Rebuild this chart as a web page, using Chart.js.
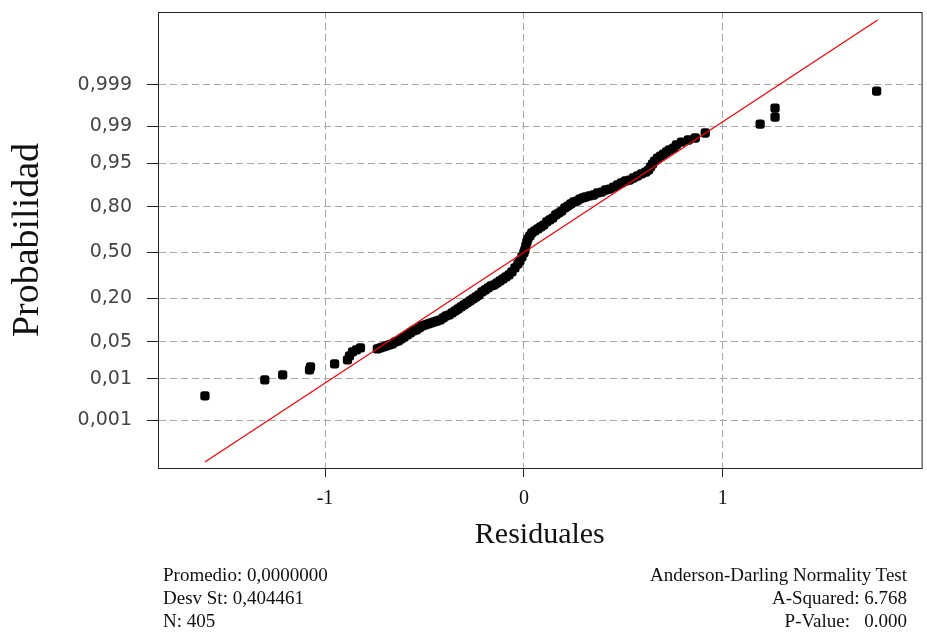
<!DOCTYPE html>
<html>
<head>
<meta charset="utf-8">
<script src="https://cdn.jsdelivr.net/npm/chart.js"></script>
<style>
	body { margin: 0; background: #fff; }
	#wrap { position: relative; width: 927px; height: 633px; }
	.stats { position: absolute; font-family: "Liberation Serif", serif; font-size: 19px; line-height: 23px; color: #111; white-space: pre; }
	#stats_left { left: 163px; top: 563px; }
	#stats_right { right: 20px; top: 563px; text-align: right; }
</style>
</head>
<body>
<div id="wrap">
	<canvas id="chart_prob" width="927" height="633"></canvas>
	<div class="stats" id="stats_left">Promedio: 0,0000000
Desv St: 0,404461
N: 405</div>
	<div class="stats" id="stats_right">Anderson-Darling Normality Test
A-Squared: 6.768
P-Value:   0.000</div>
</div>
<script>
// residuales ordenados (eje x) y su puntaje normal (eje y, escala probit)
var residuales = [
	-1.604, -1.303, -1.213, -1.078, -1.073, -0.952, -0.887, -0.877, -0.862, -0.842, -0.822,
	-0.737, -0.722, -0.707, -0.692, -0.677, -0.662, -0.647, -0.632, -0.617, -0.602,
	-0.586, -0.571, -0.556, -0.541, -0.526, -0.511, -0.496, -0.481, -0.466, -0.451,
	-0.436, -0.421, -0.406, -0.391, -0.376, -0.361, -0.346, -0.331, -0.316, -0.301,
	-0.286, -0.271, -0.256, -0.241, -0.226, -0.211, -0.195, -0.180, -0.165, -0.150,
	-0.135, -0.120, -0.105, -0.090, -0.075, -0.060, -0.045, -0.030, -0.020, -0.010,
	0.000, 0.005, 0.010, 0.015, 0.020, 0.030, 0.040, 0.055, 0.070, 0.085,
	0.100, 0.115, 0.130, 0.145, 0.160, 0.175, 0.190, 0.206, 0.221, 0.236,
	0.251, 0.266, 0.281, 0.296, 0.311, 0.331, 0.351, 0.371, 0.391, 0.411,
	0.431, 0.451, 0.471, 0.491, 0.511, 0.531, 0.551, 0.571, 0.591, 0.612,
	0.627, 0.637, 0.647, 0.657, 0.672, 0.687, 0.702, 0.717, 0.732, 0.752,
	0.767, 0.792, 0.827, 0.862, 0.912,
	1.188, 1.263, 1.263, 1.774
];
var puntajes = [
	-2.643, -2.348, -2.256, -2.164, -2.109, -2.053, -1.980, -1.906, -1.832, -1.796, -1.759,
	-1.777, -1.759, -1.740, -1.722, -1.703, -1.685, -1.648, -1.630, -1.593, -1.556,
	-1.519, -1.482, -1.446, -1.427, -1.390, -1.354, -1.335, -1.317, -1.298, -1.280,
	-1.262, -1.243, -1.206, -1.169, -1.151, -1.114, -1.077, -1.041, -1.004, -0.967,
	-0.930, -0.893, -0.856, -0.820, -0.783, -0.727, -0.691, -0.654, -0.617, -0.599,
	-0.562, -0.525, -0.488, -0.451, -0.414, -0.359, -0.285, -0.212, -0.157, -0.083,
	-0.009, 0.046, 0.120, 0.193, 0.249, 0.304, 0.359, 0.396, 0.433, 0.470,
	0.506, 0.562, 0.599, 0.635, 0.691, 0.727, 0.764, 0.820, 0.856, 0.893,
	0.930, 0.948, 0.985, 1.004, 1.022, 1.041, 1.059, 1.096, 1.114, 1.151,
	1.169, 1.206, 1.243, 1.280, 1.317, 1.335, 1.372, 1.409, 1.446, 1.482,
	1.519, 1.575, 1.630, 1.685, 1.740, 1.777, 1.814, 1.851, 1.888, 1.924,
	1.980, 2.035, 2.072, 2.109, 2.201,
	2.366, 2.495, 2.661, 2.974
];

// recta de ajuste (extremos)
var recta_x = [-1.604, 1.779];
var recta_z = [-3.858, 4.282];

// marcas del eje y (probabilidades) y del eje x
var prob_ticks = [0.001, 0.01, 0.05, 0.20, 0.50, 0.80, 0.95, 0.99, 0.999];
var prob_labels = ["0,001", "0,01", "0,05", "0,20", "0,50", "0,80", "0,95", "0,99", "0,999"];
var x_ticks = [-1, 0, 1];

/**
 * Inversa de la normal estándar (Acklam)
 */
function probit(p)
{
	var a = [-3.969683028665376e+01, 2.209460984245205e+02, -2.759285104469687e+02, 1.383577518672690e+02, -3.066479806614716e+01, 2.506628277459239e+00];
	var b = [-5.447609879822406e+01, 1.615858368580409e+02, -1.556989798598866e+02, 6.680131188771972e+01, -1.328068155288572e+01];
	var c = [-7.784894002430293e-03, -3.223964580411365e-01, -2.400758277161838e+00, -2.549732539343734e+00, 4.374664141464968e+00, 2.938163982698783e+00];
	var d = [7.784695709041462e-03, 3.224671290700398e-01, 2.445134137142996e+00, 3.754408661907416e+00];
	var q, r;
	if(p < 0.02425)
	{
		q = Math.sqrt(-2 * Math.log(p));
		return (((((c[0]*q+c[1])*q+c[2])*q+c[3])*q+c[4])*q+c[5]) / ((((d[0]*q+d[1])*q+d[2])*q+d[3])*q+1);
	}
	if(p > 1 - 0.02425)
	{
		q = Math.sqrt(-2 * Math.log(1 - p));
		return -(((((c[0]*q+c[1])*q+c[2])*q+c[3])*q+c[4])*q+c[5]) / ((((d[0]*q+d[1])*q+d[2])*q+d[3])*q+1);
	}
	q = p - 0.5;
	r = q * q;
	return (((((a[0]*r+a[1])*r+a[2])*r+a[3])*r+a[4])*r+a[5])*q / (((((b[0]*r+b[1])*r+b[2])*r+b[3])*r+b[4])*r+1);
}

//marco completo alrededor del área del gráfico
var frame_plugin = {
	id: 'frame',
	afterDraw: function(chart) {
		var ctx = chart.ctx, a = chart.chartArea;
		ctx.save();
		ctx.strokeStyle = '#222';
		ctx.lineWidth = 1;
		ctx.strokeRect(a.left + 0.5, a.top + 0.5, a.right - a.left, a.bottom - a.top);
		ctx.restore();
	}
};

function setup_chart()
{
	var puntos = residuales.map(function(x, i) { return { x: x, y: puntajes[i] }; });
	var recta = recta_x.map(function(x, i) { return { x: x, y: recta_z[i] }; });

	var params = {
		type: 'scatter',
		data: {
			datasets: [
				{
					type: 'line',
					data: recta,
					borderColor: '#ff0000',
					borderWidth: 1.3,
					pointRadius: 0,
					order: 0
				},
				{
					data: puntos,
					backgroundColor: '#000',
					borderWidth: 0,
					pointStyle: 'rectRounded',
					pointRadius: 5.4,
					order: 1
				}
			]
		},
		options: {
			responsive: false,
			animation: false,
			layout: { padding: { left: 5, top: 12, right: 1, bottom: 80 } },
			plugins: { legend: { display: false }, tooltip: { enabled: false } },
			scales: {
				x: {
					type: 'linear',
					min: -1.84,
					max: 2.0,
					afterBuildTicks: function(axis) {
						axis.ticks = x_ticks.map(function(v) { return { value: v }; });
					},
					afterFit: function(axis) {
						axis.height = 85;
						axis.paddingLeft = 0;
						axis.paddingRight = 0;
					},
					grid: { color: '#a8a8a8', lineWidth: 1, tickLength: 9, tickColor: '#222', tickBorderDash: [] },
					border: { color: '#222', width: 1, dash: [7, 4] },
					ticks: {
						padding: 10,
						color: '#111',
						font: { family: '"Liberation Serif", serif', size: 20 },
						callback: function(v) { return v === 0 ? '0' : String(v); }
					},
					title: {
						display: true,
						text: 'Residuales',
						color: '#111',
						padding: 0,
						font: { family: '"Liberation Serif", serif', size: 30 }
					}
				},
				y: {
					type: 'linear',
					min: -3.97,
					max: 4.43,
					afterBuildTicks: function(axis) {
						axis.ticks = prob_ticks.map(function(p) { return { value: probit(p) }; });
					},
					afterFit: function(axis) {
						axis.width = 153;
						axis.paddingTop = 0;
						axis.paddingBottom = 0;
					},
					grid: { color: '#a8a8a8', lineWidth: 1, tickLength: 11, tickColor: '#222', tickBorderDash: [] },
					border: { color: '#222', width: 1, dash: [7, 4] },
					ticks: {
						padding: 15,
						color: '#444',
						font: { family: '"DejaVu Sans", sans-serif', size: 19 },
						callback: function(v, i) { return prob_labels[i]; }
					},
					title: {
						display: true,
						text: 'Probabilidad',
						color: '#111',
						padding: 0,
						font: { family: '"Liberation Serif", serif', size: 38 }
					}
				}
			}
		},
		plugins: [frame_plugin]
	};
	new Chart(document.getElementById('chart_prob'), params);
}

setup_chart();
</script>
</body>
</html>
